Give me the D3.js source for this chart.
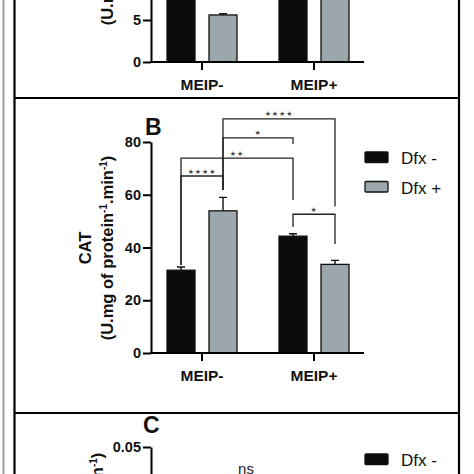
<!DOCTYPE html>
<html>
<head>
<meta charset="utf-8">
<script src="https://cdn.jsdelivr.net/npm/d3@7"></script>
<style>
html,body{margin:0;padding:0;background:#fff;}
svg{display:block;font-family:"Liberation Sans",Arial,sans-serif;}
</style>
</head>
<body>
<svg id="chart" width="474" height="474"></svg>
<script>
// ---------- data ----------
const categories = ["MEIP-", "MEIP+"];
const series = ["Dfx -", "Dfx +"];

// Panel A (top, partially visible)
const aTicks = [0, 5];
const aMeanMinus = [11.5, 11.0];
const aErrMinus = [0.3, 0.3];
const aMeanPlus = [5.6, 9.8];
const aErrPlus = [0.15, 0.3];

// Panel B (CAT)
const bTicks = [0, 20, 40, 60, 80];
const bMeanMinus = [31.4, 44.3];
const bErrMinus = [1.2, 0.9];
const bMeanPlus = [53.9, 33.6];
const bErrPlus = [5.1, 1.5];
// significance brackets: bar index (0..3 : MEIP- Dfx-, MEIP- Dfx+, MEIP+ Dfx-, MEIP+ Dfx+), level, leg ends, label
const bBrackets = [
  {from: 0, to: 1, level: 67.1, endFrom: 33.4, endTo: 61.8, label: "****"},
  {from: 0, to: 2, level: 73.9, endFrom: 33.4, endTo: 58.0, label: "**"},
  {from: 1, to: 2, level: 81.6, endFrom: 61.8, endTo: 79.2, label: "*"},
  {from: 1, to: 3, level: 88.8, endFrom: 61.8, endTo: 55.5, label: "****"},
  {from: 2, to: 3, level: 52.6, endFrom: 47.8, endTo: 41.3, label: "*"}
];

// Panel C (bottom, partially visible)
const cTicks = [0.05];
const cMeanMinus = [0.030, 0.031];
const cErrMinus = [0.002, 0.002];
const cMeanPlus = [0.032, 0.030];
const cErrPlus = [0.002, 0.002];

// ---------- drawing ----------
const svg = d3.select("#chart");
const BLACK = "#0b0b0b", GRAY = "#9ca7ad";
const colors = d3.scaleOrdinal().domain(series).range([BLACK, GRAY]);

// outer frame lines
svg.append("line").attr("x1", 3.5).attr("x2", 3.5).attr("y1", 0).attr("y2", 474)
  .attr("stroke", "#9a9a9a").attr("stroke-width", 2);
svg.append("line").attr("x1", 14.5).attr("x2", 14.5).attr("y1", 0).attr("y2", 474)
  .attr("stroke", "#000").attr("stroke-width", 2.2);
svg.append("line").attr("x1", 459).attr("x2", 459).attr("y1", 0).attr("y2", 474)
  .attr("stroke", "#000").attr("stroke-width", 2.2);
[98, 413].forEach(y => svg.append("line").attr("x1", 14).attr("x2", 460).attr("y1", y).attr("y2", y)
  .attr("stroke", "#000").attr("stroke-width", 2.2));

const x0 = d3.scaleBand().domain(categories).range([146, 370]).padding(0);
const x1 = d3.scaleBand().domain(series).range([21, 91]).paddingInner(1/3).paddingOuter(0);

function drawPanel(cfg) {
  const g = svg.append("g");
  const y = d3.scaleLinear().domain(cfg.domain).range(cfg.range);

  // bars
  const rows = [];
  categories.forEach((c, i) => {
    rows.push({cat: c, s: series[0], v: cfg.meanMinus[i], e: cfg.errMinus[i]});
    rows.push({cat: c, s: series[1], v: cfg.meanPlus[i], e: cfg.errPlus[i]});
  });
  const bx = d => x0(d.cat) + x1(d.s);
  const bw = x1.bandwidth();

  // error bars (upper only)
  g.selectAll(".err").data(rows).join("path")
    .attr("d", d => {
      const cx = bx(d) + bw / 2, yt = y(d.v + d.e), yb = y(d.v);
      return `M${cx},${yb}V${yt}M${cx - 4},${yt}H${cx + 4}`;
    })
    .attr("fill", "none").attr("stroke", "#111").attr("stroke-width", 1.4);

  g.selectAll(".bar").data(rows).join("rect")
    .attr("x", d => bx(d)).attr("width", bw)
    .attr("y", d => y(d.v)).attr("height", d => y(0) - y(d.v))
    .attr("fill", d => colors(d.s)).attr("stroke", "#111").attr("stroke-width", 1.3);

  // y axis
  const ya = g.append("g").attr("transform", `translate(${cfg.axisX},0)`)
    .call(d3.axisLeft(y).tickValues(cfg.ticks).tickSize(8).tickSizeOuter(0).tickPadding(2)
      .tickFormat(cfg.fmt || (d => d)));
  ya.select(".domain").attr("stroke", "#000").attr("stroke-width", 2);
  ya.selectAll(".tick line").attr("stroke", "#000").attr("stroke-width", 2);
  ya.selectAll(".tick text").attr("font-size", 14.5).attr("font-weight", "bold").attr("fill", "#111")
    .attr("font-family", "Liberation Sans, Arial, sans-serif");

  // x axis
  if (cfg.showX) {
    const xa = g.append("g").attr("transform", `translate(0,${y(0)})`)
      .call(d3.axisBottom(x0).tickSize(8).tickSizeOuter(0).tickPadding(9));
    xa.select(".domain").attr("d", `M${cfg.axisX - 1},0H364`).attr("stroke", "#000").attr("stroke-width", 2);
    xa.selectAll(".tick line").attr("stroke", "#000").attr("stroke-width", 2);
    xa.selectAll(".tick text").attr("font-size", 15.5).attr("font-weight", "bold").attr("fill", "#111")
      .attr("font-family", "Liberation Sans, Arial, sans-serif");
  }

  // y titles
  if (cfg.title1) {
    g.append("text").attr("transform", `translate(${cfg.t1x},${cfg.tcy}) rotate(-90)`)
      .attr("text-anchor", "middle").attr("font-size", 16.5).attr("font-weight", "bold").attr("fill", "#111")
      .text(cfg.title1);
  }
  const t2 = g.append("text").attr("transform", `translate(${cfg.t2x},${cfg.tcy}) rotate(-90)`)
    .attr("text-anchor", "middle").attr("font-size", 16.5).attr("font-weight", "bold").attr("fill", "#111");
  t2.append("tspan").text("(U.mg of protein");
  t2.append("tspan").attr("dy", -6).attr("font-size", 10).text("-1");
  t2.append("tspan").attr("dy", 6).text(".min");
  t2.append("tspan").attr("dy", -6).attr("font-size", 10).text("-1");
  t2.append("tspan").attr("dy", 6).text(")");

  if (cfg.letter) {
    g.append("text").attr("x", cfg.letterX).attr("y", cfg.letterY).attr("font-size", 23).attr("font-weight", "bold")
      .attr("fill", "#111").text(cfg.letter);
  }

  // legend
  if (cfg.legendY != null) {
    const lg = g.append("g");
    series.forEach((s, i) => {
      lg.append("rect").attr("x", 365).attr("y", cfg.legendY + i * 29.5).attr("width", 23).attr("height", 10.5)
        .attr("rx", 1).attr("fill", colors(s)).attr("stroke", "#111").attr("stroke-width", 1.3);
      lg.append("text").attr("x", 401).attr("y", cfg.legendY + i * 29.5 + 12).attr("font-size", 17)
        .attr("fill", "#111").text(s);
    });
  }

  // brackets
  if (cfg.brackets) {
    const cx = i => x0(categories[Math.floor(i / 2)]) + x1(series[i % 2]) + bw / 2;
    cfg.brackets.forEach(b => {
      const xa = cx(b.from), xb = cx(b.to), yl = y(b.level);
      g.append("path")
        .attr("d", `M${xa},${y(b.endFrom)}V${yl}H${xb}V${y(b.endTo)}`)
        .attr("fill", "none").attr("stroke", "#222").attr("stroke-width", 1.3);
      g.append("text").attr("x", (xa + xb) / 2).attr("y", yl - 2.5)
        .attr("text-anchor", "middle").attr("font-size", 7).attr("letter-spacing", 0.9)
        .attr("font-family", "DejaVu Sans, sans-serif")
        .attr("fill", "#444").text(b.label.replace(/\*/g, "\u2605"));
    });
  }
  return g;
}

// Panel A
drawPanel({
  domain: [0, 15], range: [62, -64], ticks: aTicks,
  meanMinus: aMeanMinus, errMinus: aErrMinus, meanPlus: aMeanPlus, errPlus: aErrPlus,
  axisX: 151, showX: true, title1: null, t2x: 113, tcy: -67
});

// Panel B
drawPanel({
  domain: [0, 80], range: [353, 142], ticks: bTicks,
  meanMinus: bMeanMinus, errMinus: bErrMinus, meanPlus: bMeanPlus, errPlus: bErrPlus,
  axisX: 151, showX: true, title1: "CAT", t1x: 91, t2x: 113, tcy: 248,
  letter: "B", letterX: 145, letterY: 135, legendY: 152, brackets: bBrackets
});

// Panel C
const gc = drawPanel({
  domain: [0, 0.05], range: [658, 447], ticks: cTicks, fmt: d3.format(".2f"),
  meanMinus: cMeanMinus, errMinus: cErrMinus, meanPlus: cMeanPlus, errPlus: cErrPlus,
  axisX: 151, showX: true, title1: "", t1x: 78, t2x: 103, tcy: 545,
  letter: "C", letterX: 143, letterY: 433, legendY: 454
});
gc.append("text").attr("x", 246).attr("y", 474).attr("text-anchor", "middle").attr("font-size", 15)
  .attr("fill", "#222").text("ns");
</script>
</body>
</html>
